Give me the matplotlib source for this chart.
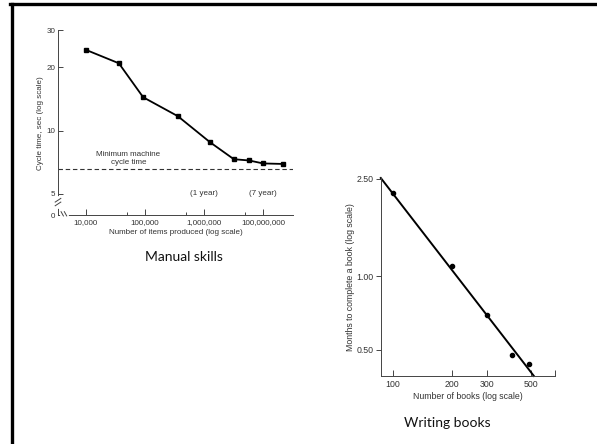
import matplotlib
matplotlib.use("Agg")
import matplotlib.pyplot as plt
from matplotlib.lines import Line2D
from matplotlib.ticker import FixedLocator, NullFormatter, NullLocator

# ---------------- data ----------------
items_produced = [1e4, 3.6e4, 9.3e4, 3.6e5, 1.26e6, 3.2e6, 5.8e6, 1.0e7, 2.2e7]
cycle_time = [24.2, 20.9, 14.4, 11.7, 8.8, 7.3, 7.2, 6.97, 6.93]
min_machine_cycle = 6.54
left_xticks = [1e4, 1e5, 1e6, 1e7]
left_xlabels = ["10,000", "100,000", "1,000,000", "100,000,000"]
left_xminor = [5e4, 5e5, 5e6]
left_yticks = [3.96, 5, 10, 20, 30]
left_ylabels = ["0", "5", "10", "20", "30"]

books = [100, 200, 300, 400, 490]
months = [2.18, 1.10, 0.695, 0.475, 0.436]
fit_x = [87, 517]
fit_y = [2.52, 0.39]
right_xticks = [100, 200, 300, 500, 661]
right_xlabels = ["100", "200", "300", "500", ""]
right_yticks = [0.5, 1.0, 2.5]
right_ylabels = ["0.50", "1.00", "2.50"]

FONT = ["Liberation Sans", "DejaVu Sans"]
TXT = "#333333"
fs = 5.8

W, H = 597, 444
fig = plt.figure(figsize=(W / 100, H / 100), dpi=100)
fig.patch.set_facecolor("white")

def fx(px):
    return px / W

def fy(py):
    return 1 - py / H

# slide border (left and top)
fig.add_artist(Line2D([fx(11.5), fx(11.5)], [0, fy(4)], color="black", lw=2.4))
fig.add_artist(Line2D([fx(10.3), 1], [fy(4.5), fy(4.5)], color="black", lw=2.4))

# ---------------- left chart ----------------
axl = fig.add_axes([fx(58), fy(215), fx(293) - fx(58), fy(30.3) - fy(215)])
axl.set_xscale("log")
axl.set_yscale("log")
axl.set_xlim(3350, 3.22e7)
axl.set_ylim(3.96, 30)
axl.plot(items_produced, cycle_time, color="black", lw=1.3, marker="s", ms=2.2)
axl.axhline(min_machine_cycle, color="#333333", lw=0.8, dashes=(4, 2.5))
for s in ["top", "right"]:
    axl.spines[s].set_visible(False)
for s in ["left", "bottom"]:
    axl.spines[s].set_linewidth(0.7)
    axl.spines[s].set_color("#444444")
axl.xaxis.set_major_locator(FixedLocator(left_xticks))
axl.set_xticklabels(left_xlabels, fontsize=fs, color=TXT, family=FONT)
axl.xaxis.set_minor_locator(FixedLocator(left_xminor))
axl.xaxis.set_minor_formatter(NullFormatter())
axl.yaxis.set_major_locator(FixedLocator(left_yticks))
axl.set_yticklabels(left_ylabels, fontsize=fs, color=TXT, family=FONT)
axl.yaxis.set_minor_locator(NullLocator())
axl.tick_params(axis="x", which="major", direction="in", length=4, width=0.7, color="#444444", pad=3)
axl.tick_params(axis="x", which="minor", direction="in", length=2, width=0.7, color="#444444")
axl.tick_params(axis="y", which="major", direction="in", length=3.5, width=0.7, color="#444444", pad=2)
axl.set_xlabel("Number of items produced (log scale)", fontsize=fs, color=TXT, family=FONT, labelpad=2)
axl.set_ylabel("Cycle time, sec (log scale)", fontsize=fs, color=TXT, family=FONT, labelpad=2)
axl.text(5.2e4, 7.35, "Minimum machine\ncycle time", fontsize=fs, color=TXT, family=FONT,
         ha="center", va="center", linespacing=1.3)
axl.text(1e6, 5.0, "(1 year)", fontsize=fs, color=TXT, family=FONT, ha="center", va="center")
axl.text(1e7, 5.0, "(7 year)", fontsize=fs, color=TXT, family=FONT, ha="center", va="center")
# axis breaks
tr = axl.transAxes
axl.plot([0, 0], [0.045, 0.095], transform=tr, color="white", lw=2, clip_on=False, zorder=5)
axl.plot([-0.012, 0.012], [0.05, 0.07], transform=tr, color="#444444", lw=0.7, clip_on=False, zorder=6)
axl.plot([-0.012, 0.012], [0.07, 0.09], transform=tr, color="#444444", lw=0.7, clip_on=False, zorder=6)
axl.plot([0.012, 0.04], [0, 0], transform=tr, color="white", lw=2, clip_on=False, zorder=5)
axl.plot([0.013, 0.023], [0.018, -0.005], transform=tr, color="#444444", lw=0.7, clip_on=False, zorder=6)
axl.plot([0.027, 0.037], [0.018, -0.005], transform=tr, color="#444444", lw=0.7, clip_on=False, zorder=6)

fig.text(fx(184), fy(257), "Manual skills", fontsize=10, family=["Lato", "DejaVu Sans"],
         color="#111111", ha="center", va="center")

# ---------------- right chart ----------------
axr = fig.add_axes([fx(380.7), fy(376), fx(555) - fx(380.7), fy(178) - fy(376)])
axr.set_xscale("log")
axr.set_yscale("log")
axr.set_xlim(86.9, 661)
axr.set_ylim(0.39, 2.52)
axr.plot(fit_x, fit_y, color="black", lw=1.4, clip_on=False)
axr.plot(books, months, "o", color="black", ms=3)
for s in ["top", "right"]:
    axr.spines[s].set_visible(False)
for s in ["left", "bottom"]:
    axr.spines[s].set_linewidth(0.7)
    axr.spines[s].set_color("#444444")
axr.xaxis.set_major_locator(FixedLocator(right_xticks))
axr.set_xticklabels(right_xlabels, fontsize=6.3, color=TXT, family=FONT)
axr.xaxis.set_minor_locator(NullLocator())
axr.yaxis.set_major_locator(FixedLocator(right_yticks))
axr.set_yticklabels(right_ylabels, fontsize=6.3, color=TXT, family=FONT)
axr.yaxis.set_minor_locator(NullLocator())
axr.tick_params(axis="x", direction="in", length=4, width=0.7, color="#444444", pad=3)
axr.tick_params(axis="y", direction="out", length=3.5, width=0.7, color="#444444", pad=1.5)
axr.set_xlabel("Number of books (log scale)", fontsize=6.3, color=TXT, family=FONT, labelpad=2)
axr.set_ylabel("Months to complete a book (log scale)", fontsize=6.3, color=TXT, family=FONT, labelpad=1)

fig.text(fx(447), fy(423), "Writing books", fontsize=10, family=["Lato", "DejaVu Sans"],
         color="#111111", ha="center", va="center")

fig.savefig("out.png", dpi=100, facecolor="white")
